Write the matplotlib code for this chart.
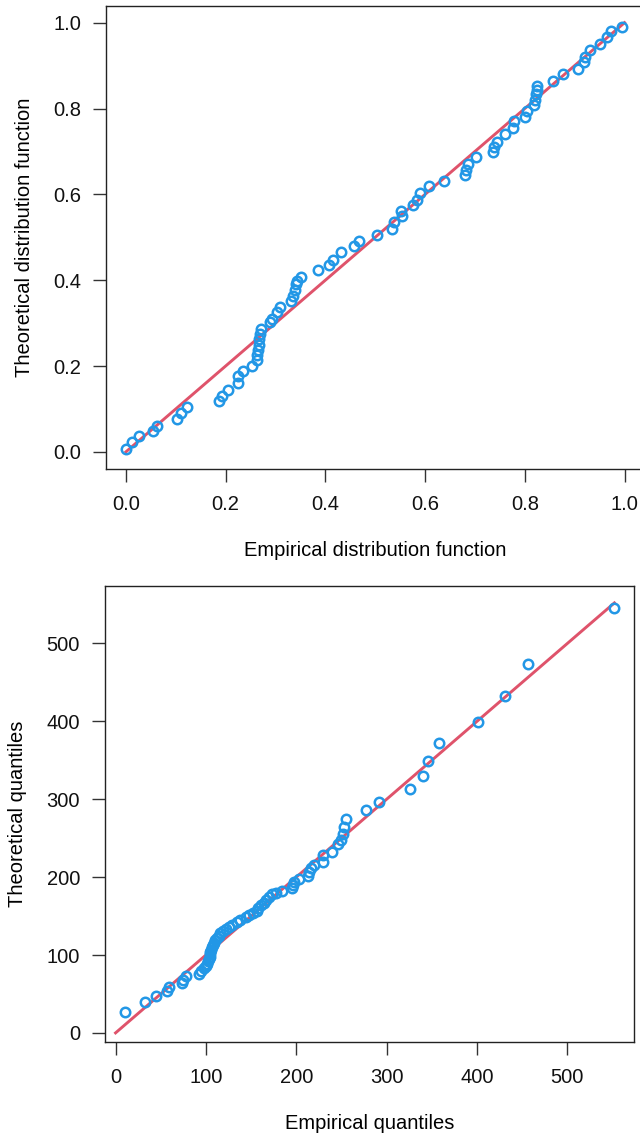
import matplotlib
matplotlib.use('Agg')
import matplotlib.pyplot as plt

plt.rcParams['font.family'] = ['Liberation Sans', 'DejaVu Sans']

# P-P plot: empirical vs theoretical distribution function
pp_emp = [0.000, 0.013, 0.027, 0.055, 0.063, 0.103, 0.110, 0.122, 0.186, 0.192,
          0.205, 0.224, 0.225, 0.235, 0.252, 0.262, 0.263, 0.265, 0.267, 0.267,
          0.269, 0.270, 0.289, 0.292, 0.302, 0.309, 0.332, 0.336, 0.339, 0.342,
          0.344, 0.352, 0.385, 0.408, 0.416, 0.431, 0.457, 0.468, 0.503, 0.533,
          0.538, 0.553, 0.552, 0.576, 0.584, 0.590, 0.608, 0.638, 0.680, 0.683,
          0.687, 0.703, 0.736, 0.739, 0.744, 0.760, 0.777, 0.778, 0.800, 0.804,
          0.818, 0.820, 0.822, 0.824, 0.825, 0.857, 0.876, 0.907, 0.919, 0.921,
          0.931, 0.951, 0.964, 0.972, 0.994]
pp_theo = [0.007, 0.022, 0.036, 0.049, 0.060, 0.076, 0.090, 0.104, 0.119, 0.129,
           0.144, 0.160, 0.176, 0.189, 0.200, 0.214, 0.226, 0.237, 0.250, 0.263,
           0.274, 0.286, 0.303, 0.310, 0.325, 0.338, 0.351, 0.363, 0.377, 0.390,
           0.398, 0.408, 0.423, 0.436, 0.448, 0.466, 0.479, 0.491, 0.506, 0.519,
           0.536, 0.549, 0.561, 0.574, 0.586, 0.603, 0.619, 0.631, 0.644, 0.657,
           0.671, 0.687, 0.698, 0.710, 0.722, 0.741, 0.755, 0.770, 0.781, 0.795,
           0.809, 0.820, 0.834, 0.844, 0.853, 0.865, 0.880, 0.892, 0.908, 0.921,
           0.936, 0.950, 0.966, 0.980, 0.991]

# Q-Q plot: empirical vs theoretical quantiles
qq_emp = [10, 33, 45, 57, 59, 73, 75, 78, 92, 94,
          98, 100, 101, 102, 103, 104, 105, 105, 106, 107,
          108, 109, 110, 112, 114, 116, 119, 122, 125, 129,
          134, 138, 144, 148, 152, 156, 158, 161, 164, 167,
          170, 173, 178, 184, 195, 196, 198, 203, 213, 214,
          216, 220, 229, 230, 240, 246, 250, 252, 253, 255,
          277, 292, 326, 340, 346, 358, 401, 431, 456, 552]
qq_theo = [27, 40, 48, 54, 59, 64, 68, 73, 76, 80,
           83, 86, 89, 92, 95, 98, 101, 104, 107, 110,
           113, 116, 119, 122, 125, 128, 131, 134, 136, 139,
           142, 145, 149, 151, 154, 157, 160, 164, 167, 171,
           174, 178, 180, 182, 186, 190, 194, 198, 201, 206,
           212, 216, 220, 228, 232, 242, 248, 255, 264, 275,
           286, 297, 313, 330, 349, 372, 399, 432, 474, 545]

pp_ticks = [0.0, 0.2, 0.4, 0.6, 0.8, 1.0]
qq_ticks = [0, 100, 200, 300, 400, 500]

BLUE = '#2297E6'
RED = '#DF536B'
W, H = 640, 1139
FS = 14.5

fig = plt.figure(figsize=(W / 100, H / 100), dpi=100)


def px_axes(l, t, r, b):
    # axes placed by pixel box (left, top, right, bottom)
    return fig.add_axes([l / W, 1 - b / H, (r - l) / W, (b - t) / H])


def style(ax):
    for s in ax.spines.values():
        s.set_linewidth(1.0)
        s.set_color('#222222')
    ax.tick_params(direction='out', length=9.5, width=1.0, color='#333333',
                   labelsize=FS, labelcolor='#111111')
    ax.tick_params(axis='x', pad=9)
    ax.tick_params(axis='y', pad=8.5)


# top panel
ax1 = px_axes(106, 5.5, 644.5, 469)
ax1.plot([0, 1], [0, 1], color=RED, lw=2.1, zorder=2)
ax1.plot(pp_emp, pp_theo, 'o', mfc='none', mec=BLUE, ms=6.8, mew=1.8, zorder=3)
ax1.set_xlim(-0.04, 1.04)
ax1.set_ylim(-0.04, 1.04)
ax1.set_xticks(pp_ticks)
ax1.set_yticks(pp_ticks)
ax1.set_xticklabels([f'{t:.1f}' for t in pp_ticks])
ax1.set_yticklabels([f'{t:.1f}' for t in pp_ticks])
ax1.set_xlabel('Empirical distribution function', fontsize=FS, labelpad=20)
ax1.set_ylabel('Theoretical distribution function', fontsize=FS, labelpad=14)
style(ax1)

# bottom panel
lo = min(min(qq_emp), min(qq_theo))
hi = max(max(qq_emp), max(qq_theo))
pad = 0.04 * (hi - lo)
ax2 = px_axes(105, 586, 634, 1042)
ax2.plot([0, max(qq_emp)], [0, max(qq_emp)], color=RED, lw=2.1, zorder=2)
ax2.plot(qq_emp, qq_theo, 'o', mfc='none', mec=BLUE, ms=6.8, mew=1.8, zorder=3)
ax2.set_xlim(lo - pad, hi + pad)
ax2.set_ylim(lo - pad, hi + pad)
ax2.set_xticks(qq_ticks)
ax2.set_yticks(qq_ticks)
ax2.set_xlabel('Empirical quantiles', fontsize=FS, labelpad=20)
ax2.set_ylabel('Theoretical quantiles', fontsize=FS, labelpad=14)
style(ax2)

fig.savefig('out.png', dpi=100)
